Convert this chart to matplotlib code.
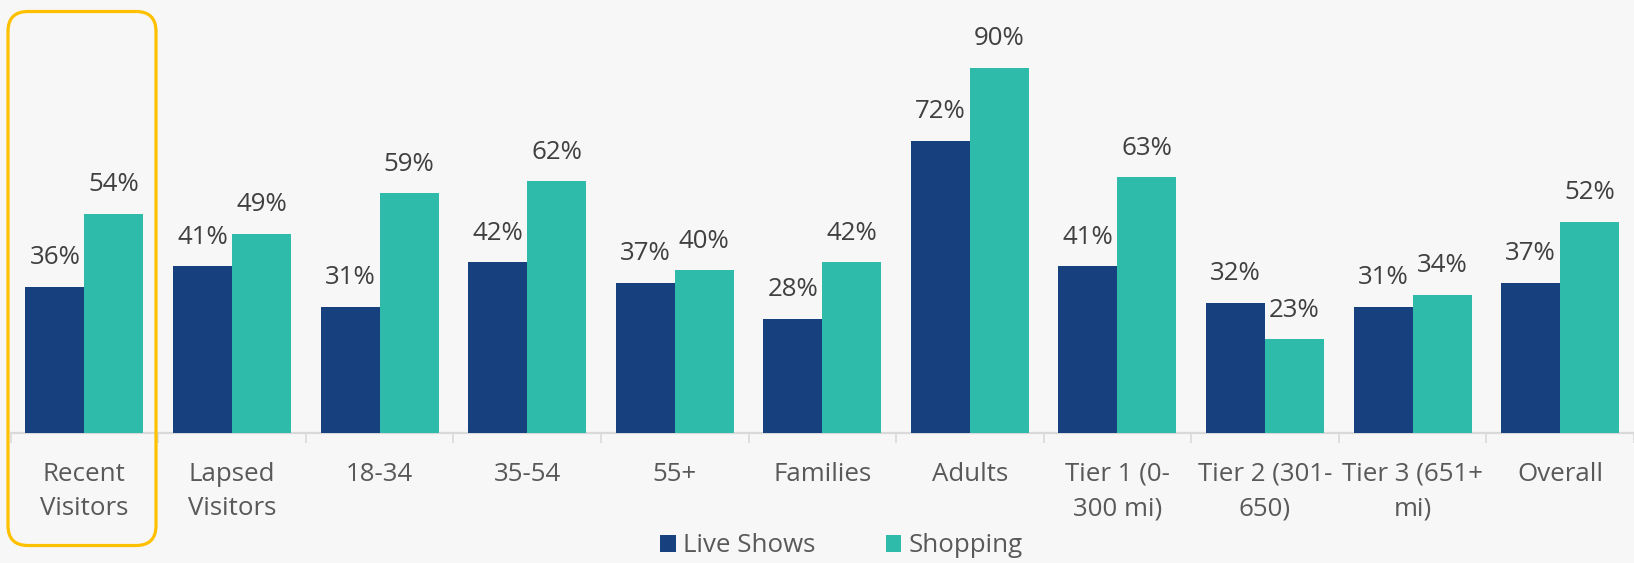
import matplotlib.pyplot as plt
from matplotlib.patches import FancyBboxPatch
import numpy as np

plt.rcParams['font.family'] = ['Open Sans', 'DejaVu Sans']

categories = ['Recent\nVisitors', 'Lapsed\nVisitors', '18-34', '35-54', '55+',
              'Families', 'Adults', 'Tier 1 (0-\n300 mi)', 'Tier 2 (301-\n650)',
              'Tier 3 (651+\nmi)', 'Overall']
live_shows = [36, 41, 31, 42, 37, 28, 72, 41, 32, 31, 37]
shopping = [54, 49, 59, 62, 40, 42, 90, 63, 23, 34, 52]

navy = '#17417E'
teal = '#2EBBA9'
bg = '#F7F7F7'
label_color = '#404040'
tick_color = '#595959'
grid_gray = '#D9D9D9'
fs = 18.6

W, H = 1634, 563
fig = plt.figure(figsize=(W / 100, H / 100), dpi=100, facecolor=bg)
ax = fig.add_axes([10.6 / W, 130.4 / H, 1 - 10.6 / W, 405.3 / H])
ax.set_facecolor(bg)

x = np.arange(len(categories))
w = 0.4
b1 = ax.bar(x - w / 2, live_shows, w, color=navy, label='Live Shows', zorder=3)
b2 = ax.bar(x + w / 2, shopping, w, color=teal, label='Shopping', zorder=3)

for bars, vals in ((b1, live_shows), (b2, shopping)):
    for r, v in zip(bars, vals):
        ax.annotate(f'{v}%', (r.get_x() + r.get_width() / 2, v),
                    xytext=(0, 21), textcoords='offset points',
                    ha='center', va='center', fontsize=fs, color=label_color)

ax.set_xlim(-0.5, len(categories) - 0.5)
ax.set_ylim(0, 100)
ax.set_yticks([])
ax.set_xticks(np.arange(len(categories) + 1) - 0.5, minor=False)
ax.set_xticklabels([])
ax.set_xticks(x, minor=True)
ax.set_xticklabels(categories, minor=True, fontsize=fs, color=tick_color,
                   linespacing=1.5)
ax.tick_params(axis='x', which='major', length=7, width=1.2, color=grid_gray,
               direction='out')
ax.tick_params(axis='x', which='minor', length=0, pad=21)
for s in ('top', 'left', 'right'):
    ax.spines[s].set_visible(False)
ax.spines['bottom'].set_color(grid_gray)
ax.spines['bottom'].set_linewidth(1.6)

leg = fig.legend(loc='center', bbox_to_anchor=(0.515, 17 / H), ncol=2,
                 frameon=False, fontsize=fs, handlelength=0.6,
                 handleheight=0.6, handletextpad=0.3, columnspacing=2.7)
for t in leg.get_texts():
    t.set_color(tick_color)

# highlight frame around the first group, drawn in pixel space
over = fig.add_axes([0, 0, 1, 1], facecolor='none')
over.set_xlim(0, W)
over.set_ylim(H, 0)
over.axis('off')
over.add_patch(FancyBboxPatch((8, 11.5), 148, 534,
                              boxstyle='round,pad=0,rounding_size=20',
                              facecolor='none', edgecolor='#FFC000',
                              linewidth=2.3))

fig.savefig('out.png', dpi=100, facecolor=bg)
